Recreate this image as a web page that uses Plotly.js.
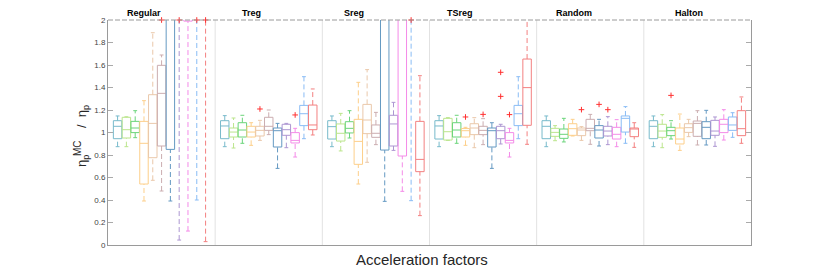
<!DOCTYPE html>
<html>
<head>
<meta charset="utf-8">
<script src="https://cdn.plot.ly/plotly-3.0.1.min.js"></script>
<style>html,body{margin:0;padding:0;background:#fff;}#chart{width:830px;height:277px;}</style>
</head>
<body>
<div id="chart"></div>
<script>
// ---------- data ----------
const groups = ['Regular', 'Treg', 'Sreg', 'TSreg', 'Random', 'Halton'];
const seriesColors = ['#78bacb', '#bbe58c', '#6ad47a', '#fdcf8a', '#eac8aa', '#cbadb0',
                      '#6499c2', '#ad96d2', '#f48be8', '#89bcf5', '#f38080'];
// rows = groups, columns = 11 series
const whiskLo = [
  [0.874, 0.874, 0.954, 0.391, 0.575, 0.480, 0.391, 0.044, 0.124, 0.400, 0.030],
  [0.874, 0.862, 0.904, 0.886, 0.930, 0.981, 0.681, 0.865, 0.782, 0.945, 0.978],
  [0.874, 0.836, 0.951, 0.542, 0.735, 0.892, 0.388, 0.841, 0.477, 0.394, 0.261],
  [0.874, 0.930, 0.904, 0.886, 0.865, 0.892, 0.681, 0.898, 0.782, 0.945, 0.895],
  [0.874, 0.927, 0.916, 0.969, 0.930, 0.895, 0.880, 0.892, 0.874, 0.904, 0.868],
  [0.874, 0.865, 0.942, 0.841, 0.963, 0.889, 0.889, 0.877, 0.933, 0.957, 0.904]
];
const q1 = [
  [0.945, 0.951, 0.999, 0.542, 0.776, 0.880, 0.850, 2.200, 1.990, 2.200, 2.200],
  [0.945, 0.960, 0.960, 0.960, 0.969, 1.019, 0.871, 0.975, 0.907, 1.061, 1.025],
  [0.942, 0.924, 0.996, 0.717, 0.990, 0.957, 0.844, 0.880, 0.791, 2.200, 0.652],
  [0.942, 0.933, 0.960, 0.960, 0.981, 0.981, 0.871, 0.945, 0.907, 1.061, 1.064],
  [0.945, 0.966, 0.948, 0.975, 0.972, 1.016, 0.951, 0.969, 0.942, 1.004, 0.963],
  [0.945, 0.957, 0.972, 0.898, 1.001, 0.966, 0.945, 0.975, 0.999, 1.019, 0.972]
];
const med = [
  [1.055, 1.025, 1.040, 0.904, 1.081, 1.348, 2.300, 2.400, 2.400, 2.400, 2.400],
  [1.058, 1.004, 1.022, 1.004, 1.019, 1.055, 1.016, 1.025, 0.930, 1.167, 1.067],
  [1.052, 0.993, 1.037, 0.921, 1.111, 0.993, 2.300, 1.076, 2.300, 2.400, 0.761],
  [1.058, 1.007, 1.022, 1.016, 1.040, 1.019, 1.016, 1.016, 0.930, 1.167, 1.399],
  [1.055, 1.001, 0.984, 1.034, 1.022, 1.037, 1.022, 1.013, 0.984, 1.126, 1.031],
  [1.055, 1.013, 1.016, 0.942, 1.043, 1.081, 1.046, 1.013, 1.073, 1.067, 1.034]
];
const q3 = [
  [1.105, 1.135, 1.099, 1.099, 1.336, 1.597, 2.800, 2.800, 2.800, 2.800, 2.800],
  [1.105, 1.040, 1.087, 1.055, 1.055, 1.135, 1.040, 1.073, 0.999, 1.241, 1.244],
  [1.105, 1.076, 1.096, 1.117, 1.250, 1.067, 2.800, 1.153, 2.800, 2.800, 1.099],
  [1.105, 1.126, 1.087, 1.035, 1.078, 1.055, 1.040, 1.055, 0.999, 1.241, 1.653],
  [1.105, 1.037, 1.031, 1.078, 1.040, 1.117, 1.061, 1.055, 1.046, 1.147, 1.040],
  [1.105, 1.073, 1.046, 1.040, 1.078, 1.102, 1.096, 1.108, 1.117, 1.138, 1.194]
];
const whiskHi = [
  [1.147, 1.140, 1.194, 1.283, 1.887, 1.689, 3.400, 3.400, 3.400, 3.400, 3.400],
  [1.150, 1.129, 1.153, 1.087, 1.108, 1.200, 1.081, 1.081, 1.037, 1.496, 1.387],
  [1.147, 1.170, 1.194, 1.446, 1.559, 1.179, 3.400, 1.268, 3.400, 3.400, 1.505],
  [1.150, 1.132, 1.153, 1.046, 1.132, 1.123, 1.087, 1.073, 1.037, 1.496, 2.600],
  [1.147, 1.061, 1.126, 1.117, 1.052, 1.161, 1.117, 1.141, 1.114, 1.230, 1.087],
  [1.147, 1.159, 1.105, 1.164, 1.117, 1.194, 1.197, 1.138, 1.203, 1.176, 1.316]
];
// outliers: group index, series index, value
const outGroup  = [0, 0, 0, 0, 1, 1, 2, 3, 3, 3, 3, 3, 4, 4, 4, 5];
const outSeries = [5, 7, 9, 10, 4, 8, 9, 3, 5, 7, 7, 8, 4, 6, 7, 2];
const outValue  = [2.0, 2.0, 2.0, 2.0, 1.209, 1.156, 2.0, 1.138, 1.161, 1.535, 1.321, 1.159, 1.203, 1.25, 1.203, 1.33];
const yTicks = [0, 0.2, 0.4, 0.6, 0.8, 1, 1.2, 1.4, 1.6, 1.8, 2];

// ---------- build ----------
const nS = seriesColors.length;
const step = 0.0821;          // spacing of boxes inside a group (x units)
const bw = step * 0.48;       // half box width
const cw = step * 0.22;       // half cap width
const pos = (g, s) => g + (s - (nS - 1) / 2) * step;

const traces = [];
for (let s = 0; s < nS; s++) {
  const sx = [], sy = [], dx = [], dy = [];
  for (let g = 0; g < groups.length; g++) {
    const c = pos(g, s);
    sx.push(c - bw, c + bw, c + bw, c - bw, c - bw, null);
    sy.push(q1[g][s], q1[g][s], q3[g][s], q3[g][s], q1[g][s], null);
    sx.push(c - bw, c + bw, null); sy.push(med[g][s], med[g][s], null);
    sx.push(c - cw, c + cw, null); sy.push(whiskLo[g][s], whiskLo[g][s], null);
    sx.push(c - cw, c + cw, null); sy.push(whiskHi[g][s], whiskHi[g][s], null);
    dx.push(c, c, null); dy.push(whiskLo[g][s], q1[g][s], null);
    dx.push(c, c, null); dy.push(q3[g][s], whiskHi[g][s], null);
  }
  traces.push({x: dx, y: dy, type: 'scatter', mode: 'lines', hoverinfo: 'skip',
    line: {color: seriesColors[s], width: 1, dash: '5px,3px'}, showlegend: false});
  traces.push({x: sx, y: sy, type: 'scatter', mode: 'lines', hoverinfo: 'skip',
    line: {color: seriesColors[s], width: 1}, showlegend: false});
}
traces.push({
  x: outGroup.map((g, i) => pos(g, outSeries[i])), y: outValue,
  type: 'scatter', mode: 'markers', cliponaxis: false, showlegend: false,
  marker: {symbol: 'cross-thin', size: 4, line: {color: '#ff3030', width: 1}}
});

const W = 830, H = 277, L = 108, R = 751, T = 20, B = 245;
const shapes = [];
for (let g = 0; g < groups.length - 1; g++) {
  shapes.push({type: 'line', xref: 'x', yref: 'paper', x0: g + 0.5, x1: g + 0.5, y0: 0, y1: 1,
    line: {color: '#e2e2e2', width: 1}, layer: 'below'});
}
shapes.push({type: 'line', xref: 'paper', yref: 'paper', x0: 0, x1: 1, y0: 1, y1: 1,
  line: {color: '#9a9a9a', width: 1, dash: '5px,2px'}});

const titlePx = [144.2, 251.3, 353.8, 459.5, 573.8, 689.3];
const px = v => (v - L) / (R - L);
const py = v => (B - v) / (B - T);
const annotations = groups.map((gname, g) => ({
  text: '<b>' + gname + '</b>', xref: 'paper', yref: 'paper', x: px(titlePx[g]), y: py(13),
  xanchor: 'center', yanchor: 'middle', showarrow: false,
  font: {family: 'Liberation Sans, Arial, sans-serif', size: 9, color: '#000'}
}));
annotations.push({text: 'Acceleration factors', xref: 'paper', yref: 'paper',
  x: px(422), y: py(259), xanchor: 'center', yanchor: 'middle', showarrow: false,
  font: {family: 'Liberation Sans, Arial, sans-serif', size: 15, color: '#262626'}});
annotations.push({text: 'η<sub>p</sub>', textangle: -90, xref: 'paper', yref: 'paper',
  x: px(82), y: py(161), xanchor: 'center', yanchor: 'middle', showarrow: false,
  font: {family: 'Liberation Sans, Arial, sans-serif', size: 13, color: '#262626'}});
annotations.push({text: 'MC', textangle: -90, xref: 'paper', yref: 'paper',
  x: px(77.5), y: py(148.5), xanchor: 'center', yanchor: 'middle', showarrow: false,
  font: {family: 'Liberation Sans, Arial, sans-serif', size: 10, color: '#262626'}});
annotations.push({text: '/  η<sub>p</sub>', textangle: -90, xref: 'paper', yref: 'paper',
  x: px(82), y: py(117), xanchor: 'center', yanchor: 'middle', showarrow: false,
  font: {family: 'Liberation Sans, Arial, sans-serif', size: 13, color: '#262626'}});

const layout = {
  width: W, height: H,
  margin: {l: L, r: W - R, t: T, b: H - B, pad: 0},
  paper_bgcolor: '#fff', plot_bgcolor: '#fff',
  showlegend: false,
  font: {family: 'Liberation Sans, Arial, sans-serif', size: 8, color: '#444'},
  xaxis: {range: [-0.5, groups.length - 0.5], showgrid: false, zeroline: false,
    showticklabels: false, ticks: '', showline: true, linecolor: '#9a9a9a', linewidth: 1},
  yaxis: {range: [0, 2], tickvals: yTicks, showgrid: false, zeroline: false,
    ticks: 'inside', ticklen: 5, tickcolor: '#aaa', showline: true, linecolor: '#9a9a9a',
    linewidth: 1, mirror: 'ticks', tickfont: {size: 8, color: '#444'}},
  shapes: shapes,
  annotations: annotations
};
Plotly.newPlot('chart', traces, layout, {displayModeBar: false, staticPlot: true});
</script>
</body>
</html>
